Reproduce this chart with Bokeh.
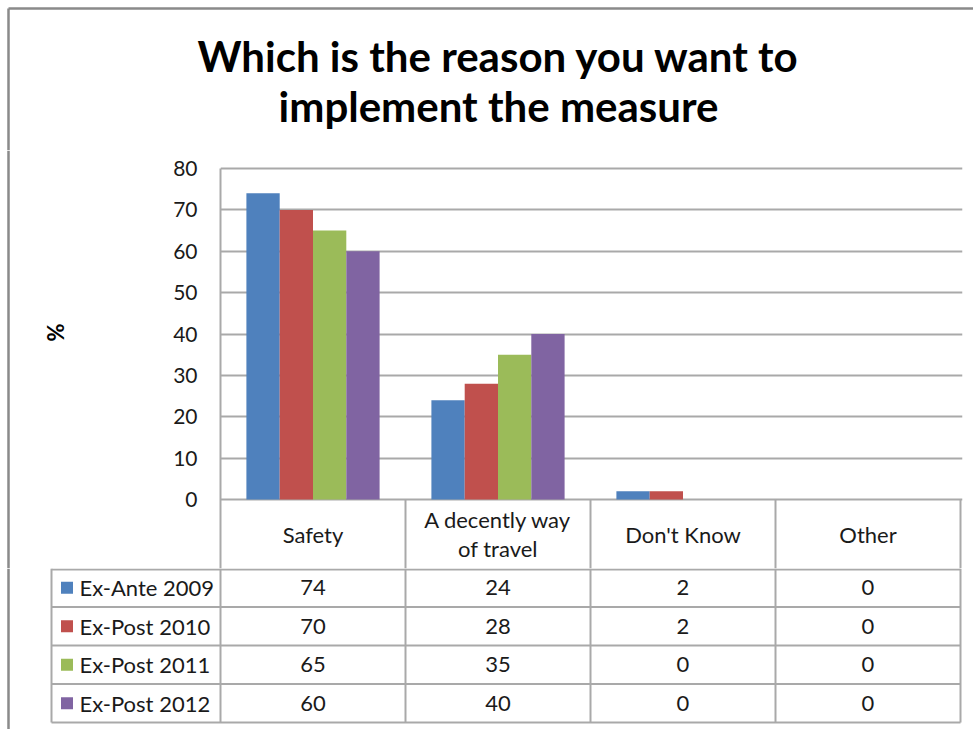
from bokeh.plotting import figure
from bokeh.models import Range1d, FixedTicker
from bokeh.layouts import column, row
from bokeh.core.properties import value
from bokeh.embed import file_html
from bokeh.resources import INLINE

# ---------------- data ----------------
title_lines = ["Which is the reason you want to", "implement the measure"]
categories = ["Safety", "A decently way\nof travel", "Don't Know", "Other"]
series_names = ["Ex-Ante 2009", "Ex-Post 2010", "Ex-Post 2011", "Ex-Post 2012"]
ex_ante_2009 = [74, 24, 2, 0]
ex_post_2010 = [70, 28, 2, 0]
ex_post_2011 = [65, 35, 0, 0]
ex_post_2012 = [60, 40, 0, 0]
y_ticks = [0, 10, 20, 30, 40, 50, 60, 70, 80]
y_label = "%"

series_values = [ex_ante_2009, ex_post_2010, ex_post_2011, ex_post_2012]
colors = ["#4F81BD", "#C0504D", "#9BBB59", "#8064A2"]

FONT = value("Lato")
TXT = "#1a1a1a"
GRID = "#a9a9a9"
BORDER = "#8a8a8a"
TSIZE = "22px"

# ---------------- geometry (px) ----------------
W = 973
TITLE_H = 150
LEFT_W = 160
FRAME_L = 220
CAT_PX = 185
PLOT_TOP = 168
ZERO_Y = 499
HEAD_Y = 533.5
MAIN_BOTTOM = 568
TABLE_H = 729 - MAIN_BOTTOM
ROW_H = 38.5
BAR_W = 0.18
offsets = [-0.27, -0.09, 0.09, 0.27]


def blank(width, height, xr, yr):
    f = figure(width=width, height=height, x_range=xr, y_range=yr,
               output_backend="svg", toolbar_location=None,
               min_border=0, min_border_left=0, min_border_right=0,
               min_border_top=0, min_border_bottom=0)
    f.axis.visible = False
    f.grid.visible = False
    f.outline_line_color = None
    f.background_fill_color = "white"
    f.border_fill_color = "white"
    return f


# ---------------- title ----------------
tf = blank(W, TITLE_H, Range1d(0, W), Range1d(TITLE_H, 0))
tf.line(x=[8, W], y=[8, 8], line_color=BORDER, line_width=2.5)
tf.line(x=[8, 8], y=[8, TITLE_H], line_color=BORDER, line_width=2.5)
tf.text(x=[498, 498], y=[55, 105], text=title_lines, text_font=FONT,
        text_font_style="bold", text_font_size="42px", text_align="center",
        text_baseline="alphabetic", text_color="black")

# ---------------- left strip ----------------
main_h = MAIN_BOTTOM - TITLE_H
lf = blank(LEFT_W, main_h, Range1d(0, LEFT_W), Range1d(main_h, 0))
lf.line(x=[8, 8], y=[0, main_h], line_color=BORDER, line_width=2.5)
lf.text(x=[55], y=[332 - TITLE_H], text=[y_label], text_font=FONT,
        text_font_style="bold", text_font_size="22px", text_align="center",
        text_baseline="middle", angle=1.5708, text_color="black")

# ---------------- main bar chart (with table header) ----------------
ppu = (ZERO_Y - PLOT_TOP) / 80.0
y_start = -(MAIN_BOTTOM - ZERO_Y) / ppu
y_end = 80 + (PLOT_TOP - TITLE_H) / ppu
x_end = len(categories) + 2.0 / CAT_PX
p = figure(width=W - LEFT_W, height=main_h,
           x_range=Range1d(0, x_end), y_range=Range1d(y_start, y_end),
           output_backend="svg", toolbar_location=None,
           min_border_left=FRAME_L - LEFT_W,
           min_border_right=W - (FRAME_L + int(round(x_end * CAT_PX))),
           min_border_top=0, min_border_bottom=0)
p.background_fill_color = "white"
p.border_fill_color = "white"
p.outline_line_color = None
p.xaxis.visible = False
p.xgrid.visible = False
p.yaxis.ticker = FixedTicker(ticks=y_ticks)
p.yaxis.bounds = (y_start, 80)
p.yaxis.major_tick_line_color = None
p.yaxis.minor_tick_line_color = None
p.yaxis.axis_line_color = GRID
p.yaxis.axis_line_width = 2
p.yaxis.major_label_standoff = 17
p.yaxis.major_label_text_font = "Lato"
p.yaxis.major_label_text_font_size = "21px"
p.yaxis.major_label_text_color = TXT
p.ygrid.ticker = FixedTicker(ticks=y_ticks)
p.ygrid.grid_line_color = GRID
p.ygrid.grid_line_width = 2

for i, (vals, col) in enumerate(zip(series_values, colors)):
    xs = [c + 0.5 + offsets[i] for c in range(len(categories))]
    p.vbar(x=xs, top=vals, bottom=0, width=BAR_W, fill_color=col, line_color=None)

# header cell dividers
ncat = len(categories)
p.segment(x0=list(range(1, ncat + 1)), y0=[y_start - 5] * ncat,
          x1=list(range(1, ncat + 1)), y1=[0] * ncat,
          line_color=GRID, line_width=2)
# header labels
head_y = -(HEAD_Y - ZERO_Y) / ppu
p.text(x=[c + 0.5 for c in range(ncat)], y=[head_y] * ncat,
       text=categories, text_font=FONT, text_font_size=TSIZE,
       text_align="center", text_baseline="middle", text_color=TXT,
       text_line_height=1.05)

# ---------------- data table rows ----------------
def px2x(px):
    return (px - FRAME_L) / CAT_PX

tb = blank(W, TABLE_H, Range1d(px2x(0), px2x(W)), Range1d(TABLE_H, 0))
tb.line(x=[px2x(8), px2x(8)], y=[0, TABLE_H], line_color=BORDER, line_width=2.5)

n_rows = len(series_names)
row_lines = [1] + [k * ROW_H for k in range(1, n_rows + 1)]
tb.segment(x0=[px2x(51)] * len(row_lines), y0=row_lines,
           x1=[ncat] * len(row_lines), y1=row_lines,
           line_color=GRID, line_width=2)
vx = list(range(0, ncat + 1)) + [px2x(51)]
tb.segment(x0=vx, y0=[0] * len(vx), x1=vx, y1=[row_lines[-1]] * len(vx),
           line_color=GRID, line_width=2)

for r, (name, vals, col) in enumerate(zip(series_names, series_values, colors)):
    yc = (r + 0.5) * ROW_H
    tb.scatter(x=[px2x(66.5)], y=[yc], marker="square", size=12,
               fill_color=col, line_color=None)
    tb.text(x=[px2x(79)], y=[yc], text=[name], text_font=FONT, text_font_size=TSIZE,
            text_align="left", text_baseline="middle", text_color=TXT)
    tb.text(x=[c + 0.5 for c in range(ncat)], y=[yc] * ncat,
            text=[str(v) for v in vals], text_font=FONT, text_font_size=TSIZE,
            text_align="center", text_baseline="middle", text_color=TXT)

layout = column(tf, row(lf, p), tb)
open("out.html", "w").write(file_html(layout, INLINE))
